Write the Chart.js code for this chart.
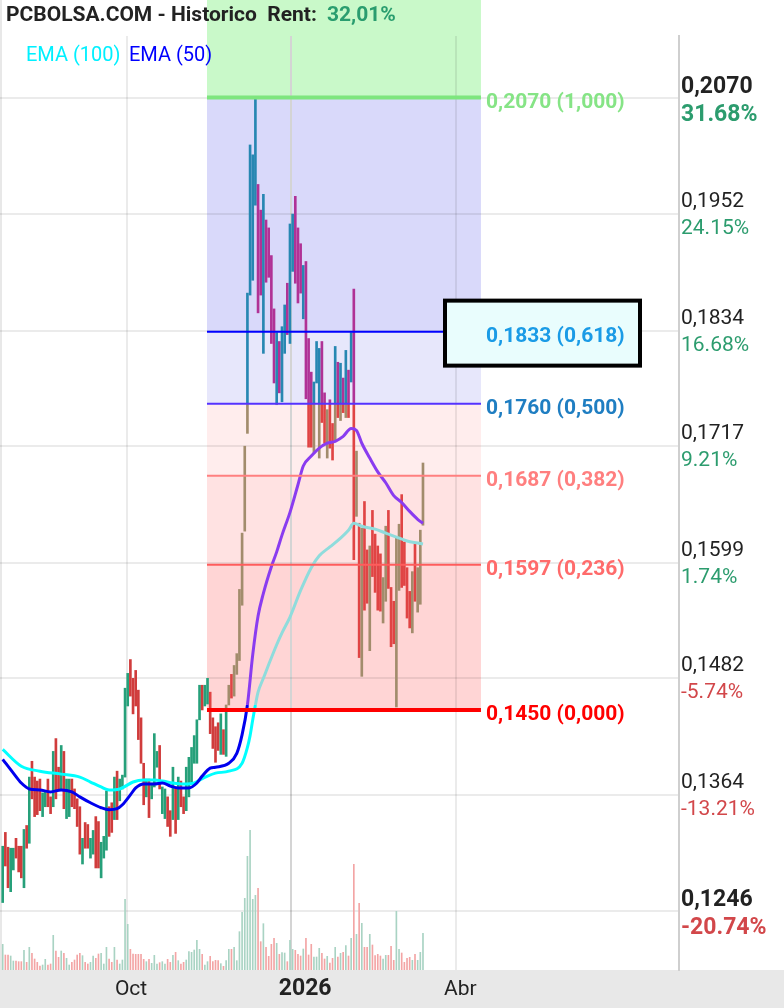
<!DOCTYPE html>
<html>
<head>
<meta charset="utf-8">
<script src="https://cdn.jsdelivr.net/npm/chart.js@4.4.1/dist/chart.umd.min.js"></script>
<style>
  html, body { margin: 0; padding: 0; background: #fff; }
  #wrap { width: 784px; height: 1008px; position: relative; }
</style>
</head>
<body>
<div id="wrap"><canvas id="chart"></canvas></div>
<script>
// PCBOLSA historico - velas diarias, EMA 50/100, retroceso Fibonacci

// --- Data ---
const hi = [
  0.1312,0.1326,0.1311,0.1310,0.1310,0.1320,0.1312,0.1312,0.1329,0.1333,
  0.1382,0.1398,0.1382,0.1378,0.1380,0.1366,0.1367,0.1380,0.1362,0.1408,
  0.1421,0.1392,0.1414,0.1408,0.1380,0.1380,0.1380,0.1370,0.1360,0.1352,
  0.1320,0.1336,0.1334,0.1320,0.1328,0.1342,0.1337,0.1316,0.1322,0.1368,
  0.1352,0.1356,0.1382,0.1388,0.1380,0.1384,0.1472,0.1487,0.1501,0.1482,
  0.1490,0.1470,0.1442,0.1396,0.1380,0.1380,0.1376,0.1426,0.1408,0.1414,
  0.1372,0.1370,0.1362,0.1348,0.1392,0.1372,0.1382,0.1378,0.1362,0.1392,
  0.1402,0.1412,0.1424,0.1440,0.1475,0.1475,0.1475,0.1482,0.1468,0.1442,
  0.1433,0.1437,0.1446,0.1430,0.1455,0.1475,0.1486,0.1495,0.1507,0.1572,
  0.1629,0.1717,0.1872,0.2022,0.2012,0.2069,0.1982,0.1956,0.1972,0.1946,
  0.1938,0.1910,0.1856,0.1832,0.1823,0.1838,0.1860,0.1882,0.1942,0.1952,
  0.1970,0.1938,0.1922,0.1900,0.1904,0.1826,0.1792,0.1782,0.1823,0.1816,
  0.1823,0.1771,0.1754,0.1764,0.1740,0.1818,0.1802,0.1801,0.1786,0.1814,
  0.1794,0.1832,0.1876,0.1712,0.1639,0.1634,0.1661,0.1612,0.1616,0.1652,
  0.1628,0.1616,0.1608,0.1584,0.1636,0.1652,0.1574,0.1560,0.1625,0.1638,
  0.1668,0.1620,0.1594,0.1570,0.1590,0.1618,0.1594,0.1632,0.1700
];
const lo = [
  0.1255,0.1292,0.1270,0.1266,0.1288,0.1300,0.1286,0.1280,0.1270,0.1310,
  0.1315,0.1360,0.1342,0.1344,0.1348,0.1342,0.1352,0.1352,0.1345,0.1352,
  0.1360,0.1370,0.1370,0.1350,0.1340,0.1342,0.1352,0.1350,0.1332,0.1304,
  0.1294,0.1310,0.1310,0.1300,0.1304,0.1290,0.1290,0.1280,0.1300,0.1308,
  0.1322,0.1326,0.1339,0.1339,0.1358,0.1370,0.1382,0.1454,0.1464,0.1446,
  0.1454,0.1420,0.1396,0.1354,0.1362,0.1341,0.1360,0.1372,0.1392,0.1370,
  0.1345,0.1340,0.1332,0.1322,0.1339,0.1325,0.1339,0.1352,0.1345,0.1348,
  0.1362,0.1376,0.1396,0.1396,0.1440,0.1450,0.1454,0.1456,0.1426,0.1411,
  0.1397,0.1409,0.1405,0.1405,0.1403,0.1455,0.1462,0.1464,0.1486,0.1500,
  0.1556,0.1631,0.1730,0.1870,0.1885,0.1961,0.1852,0.1870,0.1811,0.1883,
  0.1888,0.1821,0.1781,0.1759,0.1771,0.1762,0.1811,0.1830,0.1821,0.1894,
  0.1882,0.1862,0.1872,0.1846,0.1765,0.1716,0.1716,0.1710,0.1781,0.1705,
  0.1741,0.1720,0.1705,0.1715,0.1703,0.1723,0.1746,0.1743,0.1751,0.1746,
  0.1746,0.1782,0.1602,0.1646,0.1503,0.1484,0.1551,0.1558,0.1510,0.1585,
  0.1569,0.1551,0.1550,0.1538,0.1560,0.1573,0.1514,0.1517,0.1453,0.1571,
  0.1574,0.1576,0.1543,0.1533,0.1528,0.1560,0.1549,0.1557,0.1637
];
// 1 = vela alcista, 0 = bajista
const up = [
  1,0,0,1,1,0,0,0,1,0, 1,0,0,0,0,1,1,0,0,1, 0,0,1,0,1,1,0,0,0,0,
  1,0,0,1,1,0,0,1,1,1, 0,0,1,0,1,1,1,1,0,0, 0,0,0,0,1,0,1,1,1,0,
  1,1,0,0,1,0,1,0,0,1, 1,1,1,1,1,0,1,1,0,0, 0,0,1,0,1,1,0,1,1,1,
  1,1,1,1,1,1,0,0,1,0, 0,0,0,1,0,1,1,0,1,1, 0,0,0,1,0,0,0,1,1,1,
  0,0,1,0,0,1,0,1,0,1, 0,1,0,1,0,1,0,0,1,0, 0,0,0,1,1,0,0,0,1,1,
  0,0,0,0,1,0,1,1,1
];
const volume = [
  77,45,45,42,27,27,25,25,59,23, 68,50,33,23,12,15,32,15,18,104,
  57,38,57,50,35,15,23,30,45,50, 43,23,18,23,42,35,48,50,18,68,
  33,23,68,30,18,30,212,137,62,48, 47,47,47,32,25,32,20,44,18,22,
  25,18,32,23,44,53,28,18,23,30, 55,53,60,89,62,47,15,25,41,25,
  29,28,19,11,28,62,62,68,28,115, 173,215,341,419,212,224,245,85,139,68,
  41,77,95,80,47,52,51,25,89,62, 59,47,42,63,95,45,77,39,39,65,
  50,33,41,21,35,68,39,50,53,73, 42,95,317,107,200,140,68,68,107,75,
  43,47,42,33,44,44,71,29,176,62, 51,23,35,38,29,47,29,53,110
];

const ema100Idx = [0,7,14,22,29,33,37,40,44,49,53,57,60,64,68,72,74,77,80,85,
  90,92,93,94,95,96,98,100,103,105,108,112,116,119,123,127,130,132,135,140,144,148,152,156,158];
const ema100 = [0.1410,0.1393,0.1388,0.1385,0.1382,0.1377,0.1372,0.1369,0.1370,0.1377,
  0.1379,0.1379,0.1378,0.1376,0.1375,0.1376,0.1379,0.1383,0.1386,0.1388,
  0.1396,0.1412,0.1424,0.1440,0.1455,0.1468,0.1482,0.1496,0.1516,0.1528,
  0.1544,0.1571,0.1594,0.1606,0.1615,0.1624,0.1632,0.1639,0.1636,0.1633,
  0.1629,0.1625,0.1621,0.1619,0.1618];

const ema50Idx = [0,4,7,10,14,18,22,26,29,33,37,40,43,45,48,50,53,57,60,63,
  66,70,73,75,78,80,85,88,90,92,94,96,98,101,103,105,108,111,113,116,
  119,122,125,128,131,133,135,138,141,144,147,150,153,156,158];
const ema50 = [0.1400,0.1386,0.1376,0.1370,0.1369,0.1367,0.1369,0.1367,0.1362,0.1356,
  0.1351,0.1349,0.1350,0.1354,0.1364,0.1371,0.1375,0.1375,0.1376,0.1373,
  0.1371,0.1371,0.1376,0.1383,0.1391,0.1392,0.1396,0.1406,0.1425,0.1455,
  0.1506,0.1545,0.1568,0.1595,0.1610,0.1627,0.1650,0.1678,0.1697,0.1707,
  0.1715,0.1720,0.1722,0.1727,0.1735,0.1733,0.1720,0.1705,0.1691,0.1680,
  0.1667,0.1660,0.1651,0.1643,0.1639];

const priceTicks = [0.2070, 0.1952, 0.1834, 0.1717, 0.1599, 0.1482, 0.1364, 0.1246];
const priceLabels = ['0,2070', '0,1952', '0,1834', '0,1717', '0,1599', '0,1482', '0,1364', '0,1246'];
const pctLabels = ['31.68%', '24.15%', '16.68%', '9.21%', '1.74%', '-5.74%', '-13.21%', '-20.74%'];

const dateTicks = [46.7, 108.3, 170.4];   // posicion en velas
const dateLabels = ['Oct', '2026', 'Abr'];

const fibLevels = [0.2070, 0.1833, 0.1760, 0.1687, 0.1597, 0.1450];
const fibRatios = [1.000, 0.618, 0.500, 0.382, 0.236, 0.000];
const fibStart = 76.8, fibEnd = 179.8;

// --- Styles ---
const FONT = 'Roboto, "Noto Sans", sans-serif';
const C = {
  up: '#26a07a', down: '#d03c3c',
  upBlue: '#2787b2', downBlue: '#b03296',
  upPink: '#a28c6c', downPink: '#e04444',
  volUp: '#a9d3c3', volDown: '#f3a5a5',
  ema100: '#00ffff', ema100Tint: '#8fdcdc',
  ema50: '#0000ee', ema50Tint: '#8a3cf0'
};
const zoneColors = ['#c9f9c9', '#d9d9fa', '#e7e7fb', '#ffeded', '#ffe2e2', '#ffd5d5'];
const fibLineColors = ['#7ee67e', '#0000ff', '#5533ff', '#ff7f7f', '#ff5c5c', '#ff0000'];
const fibLineWidths = [4, 2, 2, 2, 2, 4];
const fibTextColors = ['#86e486', '#1a9be6', '#1f7ec2', '#ff7f7f', '#ff6b6b', '#ff0000'];

const xMin = -2.7 / 2.66, xMax = (679 - 2.7) / 2.66;
const yMin = 0.11867, yMax = 0.21323;

function candleColor(c) {
  const i = c.dataIndex;
  const isUp = up[i] === 1;
  const chart = c.chart;
  if (!chart.chartArea || i <= 77) return isUp ? C.up : C.down;
  const y = chart.scales.y;
  const h = chart.height;
  const t1 = y.getPixelForValue(fibLevels[2]) / h;
  const t2 = y.getPixelForValue(fibLevels[5]) / h;
  const g = chart.ctx.createLinearGradient(0, 0, 0, h);
  const a = isUp ? C.upBlue : C.downBlue;
  const b = isUp ? C.upPink : C.downPink;
  const d = isUp ? C.up : C.down;
  g.addColorStop(0, a); g.addColorStop(t1, a);
  g.addColorStop(t1, b); g.addColorStop(t2, b);
  g.addColorStop(t2, d); g.addColorStop(1, d);
  return g;
}

function inFib(p0, p1) {
  return p0.parsed.x >= fibStart && (p0.parsed.y + p1.parsed.y) / 2 >= fibLevels[5];
}

function fmt(v, d) { return v.toFixed(d).replace('.', ','); }

const overlay = {
  id: 'overlay',
  beforeDraw(chart) {
    const { ctx, chartArea: a, scales: { x, y } } = chart;
    ctx.save();
    ctx.fillStyle = '#e8e8e8';
    ctx.fillRect(0, a.bottom, chart.width, chart.height - a.bottom);
    ctx.fillRect(0, 0, 2, a.bottom);
    const x0 = x.getPixelForValue(fibStart), x1 = x.getPixelForValue(fibEnd);
    const ys = fibLevels.map(v => y.getPixelForValue(v));
    ctx.fillStyle = zoneColors[0];
    ctx.fillRect(x0, 0, x1 - x0, ys[0]);
    for (let k = 0; k < ys.length - 1; k++) {
      ctx.fillStyle = zoneColors[k + 1];
      ctx.fillRect(x0, ys[k], x1 - x0, ys[k + 1] - ys[k]);
    }
    ctx.restore();
  },
  afterDatasetsDraw(chart) {
    const { ctx, scales: { x, y } } = chart;
    const x0 = x.getPixelForValue(fibStart), x1 = x.getPixelForValue(fibEnd);
    ctx.save();
    fibLevels.forEach((v, k) => {
      const py = y.getPixelForValue(v);
      ctx.strokeStyle = fibLineColors[k];
      ctx.lineWidth = fibLineWidths[k];
      ctx.beginPath();
      ctx.moveTo(x0, py);
      ctx.lineTo(x1, py);
      ctx.stroke();
    });
    // recuadro resaltado del nivel 0,618
    const p618 = y.getPixelForValue(fibLevels[1]);
    ctx.fillStyle = '#e9fdfd';
    ctx.fillRect(445, p618 - 31, 195, 65);
    ctx.strokeStyle = '#000';
    ctx.lineWidth = 4;
    ctx.strokeRect(445, p618 - 31, 195, 65);

    ctx.font = `bold 21px ${FONT}`;
    ctx.textBaseline = 'alphabetic';
    fibLevels.forEach((v, k) => {
      const py = y.getPixelForValue(v);
      ctx.fillStyle = fibTextColors[k];
      ctx.fillText(`${fmt(v, 4)} (${fmt(fibRatios[k], 3)})`, x1 + 5, py + 10);
    });
    ctx.restore();
  },
  afterDraw(chart) {
    const { ctx, chartArea: a, scales: { x, y } } = chart;
    ctx.save();
    ctx.textBaseline = 'alphabetic';
    // titulo
    ctx.font = `bold 21px ${FONT}`;
    ctx.fillStyle = '#222';
    ctx.fillText('PCBOLSA.COM - Historico  Rent:', 6, 21);
    ctx.fillStyle = '#2a9d6f';
    ctx.fillText('32,01%', 327, 21);
    // leyenda
    ctx.font = `20px ${FONT}`;
    ctx.fillStyle = '#00f0ff';
    ctx.fillText('EMA (100)', 26, 61);
    ctx.fillStyle = '#0000ff';
    ctx.fillText('EMA (50)', 129, 61);
    // eje derecho
    const last = priceTicks.length - 1;
    priceTicks.forEach((v, k) => {
      const gy = y.getPixelForValue(v);
      const bold = k === 0 || k === last;
      ctx.font = bold ? `bold 23px ${FONT}` : `21px ${FONT}`;
      ctx.fillStyle = '#222';
      ctx.fillText(priceLabels[k], a.right + 2, gy - (bold ? 5 : 7));
      ctx.fillStyle = pctLabels[k].startsWith('-') ? '#d2474a' : '#2c9c6e';
      ctx.fillText(pctLabels[k], a.right + 2, gy + (bold ? 23 : 20));
    });
    // eje inferior
    dateTicks.forEach((v, k) => {
      const gx = x.getPixelForValue(v);
      ctx.font = k === 1 ? `bold 23px ${FONT}` : `21px ${FONT}`;
      ctx.fillStyle = '#222';
      ctx.fillText(dateLabels[k], gx - 12, a.bottom + 25);
    });
    ctx.restore();
  }
};

const candles = hi.map((h, i) => ({ x: i, y: [lo[i], h] }));
const vols = volume.map((v, i) => ({ x: i, y: v }));

new Chart(document.getElementById('chart'), {
  type: 'bar',
  data: {
    datasets: [
      {
        label: 'Volumen',
        data: vols,
        yAxisID: 'yv',
        barThickness: 1,
        grouped: false,
        backgroundColor: c => up[c.dataIndex] === 1 ? C.volUp : C.volDown,
        order: 3
      },
      {
        label: 'Precio',
        data: candles,
        yAxisID: 'y',
        barThickness: 2,
        grouped: false,
        backgroundColor: candleColor,
        order: 2
      },
      {
        type: 'line',
        label: 'EMA (100)',
        data: ema100Idx.map((i, k) => ({ x: i, y: ema100[k] })),
        yAxisID: 'y',
        borderColor: C.ema100,
        borderWidth: 3,
        pointRadius: 0,
        cubicInterpolationMode: 'monotone',
        segment: { borderColor: s => inFib(s.p0, s.p1) ? C.ema100Tint : C.ema100 },
        order: 1
      },
      {
        type: 'line',
        label: 'EMA (50)',
        data: ema50Idx.map((i, k) => ({ x: i, y: ema50[k] })),
        yAxisID: 'y',
        borderColor: C.ema50,
        borderWidth: 3,
        pointRadius: 0,
        cubicInterpolationMode: 'monotone',
        segment: { borderColor: s => inFib(s.p0, s.p1) ? C.ema50Tint : C.ema50 },
        order: 0
      }
    ]
  },
  options: {
    responsive: true,
    maintainAspectRatio: false,
    animation: false,
    events: [],
    layout: { padding: { top: 36, left: 0, right: 0, bottom: 0 } },
    plugins: { legend: { display: false }, tooltip: { enabled: false } },
    scales: {
      x: {
        type: 'linear',
        min: xMin,
        max: xMax,
        offset: false,
        afterFit: s => { s.height = 38; },
        afterBuildTicks: s => { s.ticks = dateTicks.map(v => ({ value: v })); },
        ticks: { display: false },
        grid: {
          offset: false,
          drawTicks: false,
          lineWidth: 2,
          color: c => c.index === 1 ? '#d4d4d4' : 'rgba(0,0,0,0.08)'
        },
        border: { display: false }
      },
      y: {
        position: 'right',
        min: yMin,
        max: yMax,
        afterFit: s => { s.width = 105; },
        afterBuildTicks: s => { s.ticks = priceTicks.map(v => ({ value: v })); },
        ticks: { display: false },
        grid: { drawTicks: false, lineWidth: 2, color: 'rgba(0,0,0,0.08)' },
        border: { display: true, color: '#cfcfcf', width: 2 }
      },
      yv: {
        display: false,
        min: 0,
        max: 2802
      }
    }
  },
  plugins: [overlay]
});
</script>
</body>
</html>
